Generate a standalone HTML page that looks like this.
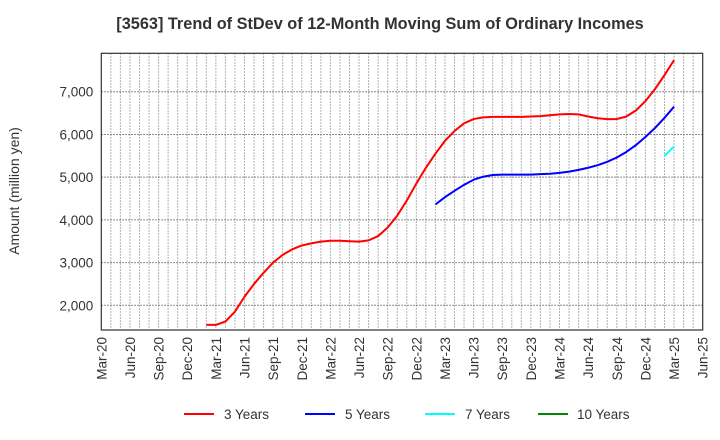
<!DOCTYPE html>
<html><head><meta charset="utf-8"><style>
body{margin:0;background:#fff}
svg{display:block;font-family:"Liberation Sans",Arial,sans-serif}
</style></head><body>
<svg id="chart" width="720" height="440">
<text x="380" y="29" text-anchor="middle" font-size="16.3" font-weight="bold" fill="#333">[3563]  Trend of StDev of 12-Month Moving Sum of Ordinary Incomes</text>
<text transform="translate(19,191) rotate(-90)" text-anchor="middle" font-size="14" fill="#333">Amount (million yen)</text>
<g id="grid"></g>
<g id="series"></g>
<rect x="101.3" y="53.3" width="601.4" height="276.7" fill="none" stroke="#333" stroke-width="1.2"/>
<g id="yticks"></g>
<g id="xticks"></g>
<g>
<g><line x1="184" y1="414" x2="214" y2="414" stroke="#f00" stroke-width="2"/><text x="224" y="419" font-size="13.5" fill="#333">3 Years</text></g>
<g><line x1="305" y1="414" x2="335" y2="414" stroke="#00f" stroke-width="2"/><text x="345" y="419" font-size="13.5" fill="#333">5 Years</text></g>
<g><line x1="425" y1="414" x2="455" y2="414" stroke="#0ff" stroke-width="2"/><text x="465" y="419" font-size="13.5" fill="#333">7 Years</text></g>
<g><line x1="538" y1="414" x2="568" y2="414" stroke="#080" stroke-width="2"/><text x="577" y="419" font-size="13.5" fill="#333">10 Years</text></g>
</g>
</svg>
<script>
const xLabels=["Mar-20","Jun-20","Sep-20","Dec-20","Mar-21","Jun-21","Sep-21","Dec-21","Mar-22","Jun-22","Sep-22","Dec-22","Mar-23","Jun-23","Sep-23","Dec-23","Mar-24","Jun-24","Sep-24","Dec-24","Mar-25","Jun-25"];
const yTicks=[2000,3000,4000,5000,6000,7000];
const yTickLabels=["2,000","3,000","4,000","5,000","6,000","7,000"];
const start3=11;
const series3=[1540,1540,1620,1850,2200,2500,2760,3000,3180,3310,3400,
3450,3490,3510,3510,3500,3490,3520,3620,3820,4100,4450,4850,
5220,5550,5850,6080,6260,6360,6400,6410,6410,6410,6410,6420,
6430,6450,6470,6480,6470,6420,6380,6360,6360,6420,6560,6780,
7060,7390,7740];
const start5=35;
const series5=[4360,4530,4680,4820,4940,5010,5050,5060,5060,5060,5060,
5070,5080,5100,5130,5170,5220,5280,5360,5460,5590,5750,5940,
6150,6390,6650];
const start7=59;
const series7=[5500,5720];
const series10=[];
const X0=101.3,X1=702.7,Y0=330,Y1=53.3,NM=63,YMIN=1421,YMAX=7900;
const xs=m=>X0+(X1-X0)*m/NM;
const ys=v=>Y0-(Y0-Y1)*(v-YMIN)/(YMAX-YMIN);
const NS="http://www.w3.org/2000/svg";
const mk=(t,a)=>{const e=document.createElementNS(NS,t);for(const k in a)e.setAttribute(k,a[k]);return e;};
const grid=document.getElementById('grid');
for(let m=1;m<NM;m++){
 const l=mk('line',{x1:xs(m),x2:xs(m),y1:Y1,y2:Y0,stroke:'#999','stroke-width':1,'stroke-dasharray':'1.5,1.5'});
 
 
 grid.appendChild(l);
}
const yt=document.getElementById('yticks');
yTicks.forEach((v,i)=>{
 const l=mk('line',{x1:X0,x2:X1,y1:ys(v),y2:ys(v),stroke:'#666','stroke-width':1,'stroke-dasharray':'1.5,1.5'});
 
 
 grid.appendChild(l);
 const t=mk('text',{x:X0-8,y:ys(v)+5,'text-anchor':'end','font-size':13.5,fill:'#333'});
 t.textContent=yTickLabels[i];
 
 
 yt.appendChild(t);
});
const xt=document.getElementById('xticks');
xLabels.forEach((s,i)=>{
 const x=xs(i*3);
 const t=mk('text',{transform:`translate(${x+5},337) rotate(-90)`,'text-anchor':'end','font-size':13.5,fill:'#333'});
 t.textContent=s;
 
 
 xt.appendChild(t);
});
const sg=document.getElementById('series');
function draw(arr,st,col,name){
 if(!arr.length)return;
 const p=mk('polyline',{points:arr.map((v,i)=>xs(st+i)+','+ys(v)).join(' '),fill:'none',stroke:col,'stroke-width':2,'stroke-linejoin':'round'});
 
 
 sg.appendChild(p);
}
draw(series3,start3,'#f00','line-3-years');
draw(series5,start5,'#00f','line-5-years');
draw(series7,start7,'#0ff','line-7-years');
draw(series10,start7,'#080','line-10-years');
</script>
</body></html>
